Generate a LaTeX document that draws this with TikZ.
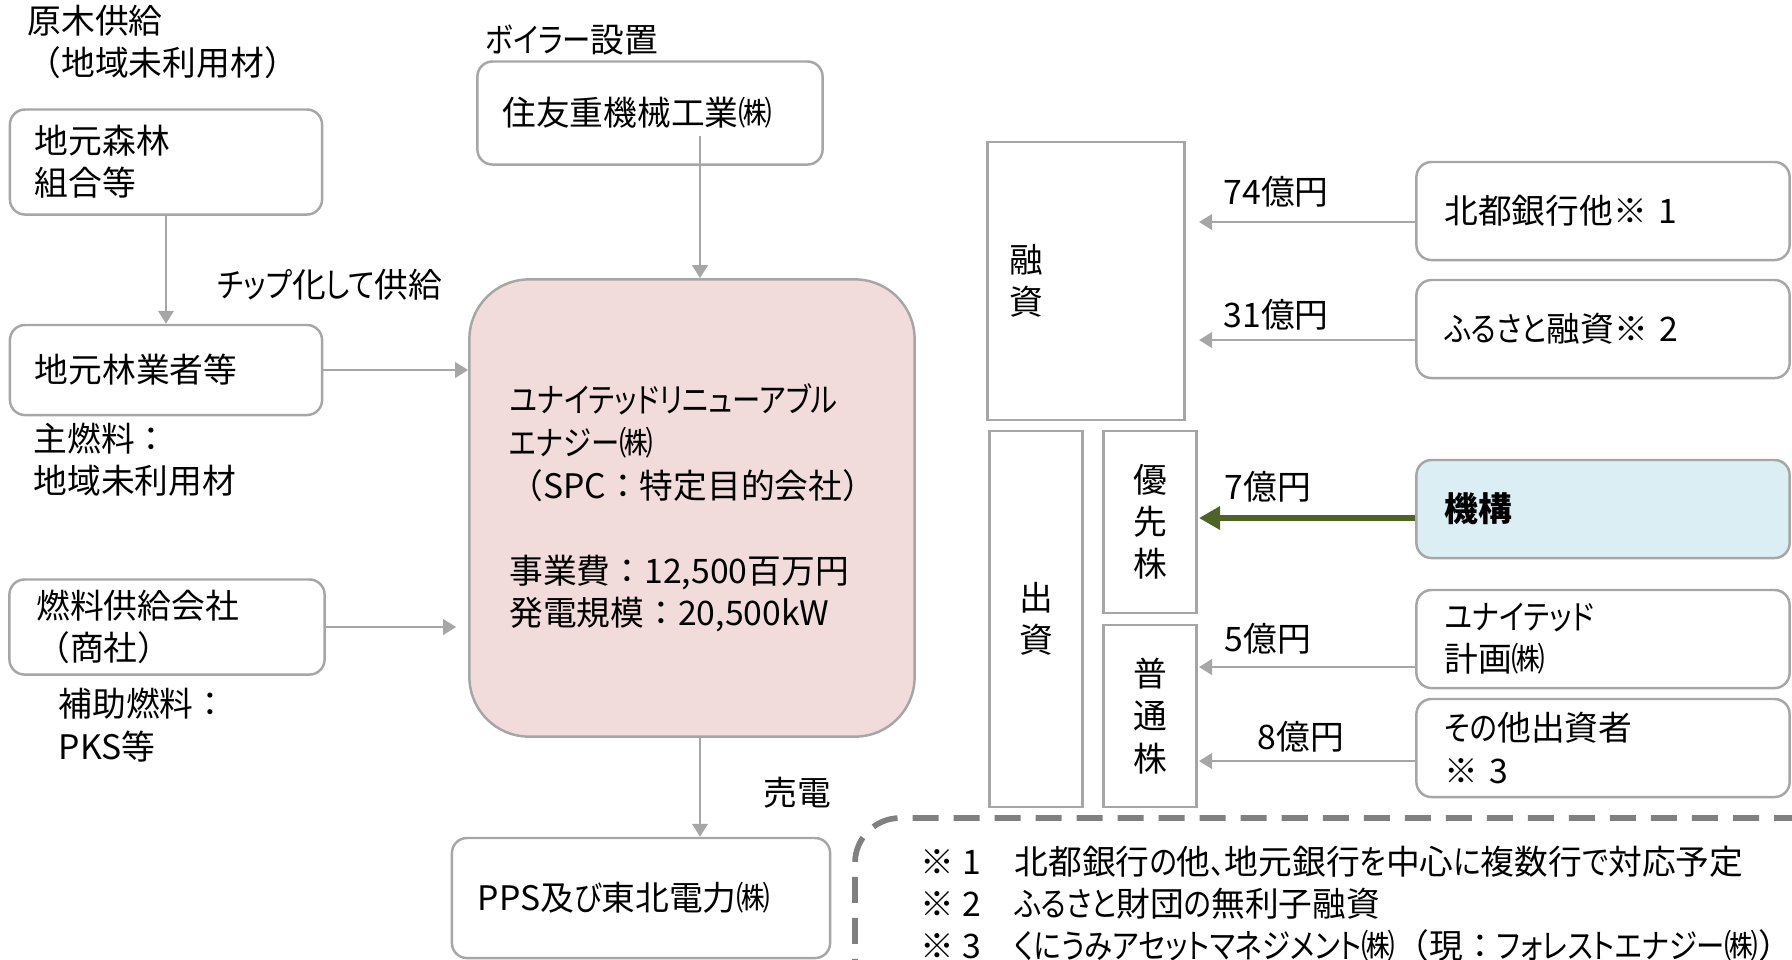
\documentclass[tikz,border=0pt]{standalone}
\usepackage{fontspec}
\setmainfont{Noto Sans CJK JP}
\newfontfamily\knfont{Noto Sans CJK JP}[RawFeature=+palt, FakeStretch=0.84]
\newcommand{\kn}[1]{{\knfont #1}}
\usetikzlibrary{arrows.meta, calc, positioning}

\definecolor{linegray}{HTML}{A6A6A6}
\definecolor{dashgray}{HTML}{808080}
\definecolor{spcpink}{HTML}{F2DCDB}
\definecolor{kikoublue}{HTML}{DBEEF4}
\definecolor{kikougreen}{HTML}{4F6228}

\begin{document}
\begin{tikzpicture}[
            x=0.01cm,
            y=-0.01cm,
            >={Triangle[length=3.7pt,width=4.4pt]},
            font=\fontsize{9.6pt}{12pt}\selectfont,
            party/.style={draw=linegray, line width=0.7pt, rounded corners=4.3pt,
                inner sep=0pt, align=left},
            column/.style={draw=linegray, line width=0.7pt, inner sep=0pt,
                minimum width=0.93cm, align=center},
            flow/.style={->, draw=linegray, line width=0.7pt},
            plain/.style={inner sep=0pt, anchor=west, align=left}
        ]

            % --- Canvas ---
            \useasboundingbox (0,0) rectangle (1792,959);
            \clip (0,0) rectangle (1792,959);

            % --- Definitions ---
            \coordinate (axis) at (700,0);
            \coordinate (tipx) at (1199,0);

            % --- 1. Fuel side ---
            \node[plain] (genboku) at (27,42) {原木供給\\（地域未利用材）};
            \node[party, minimum width=3.12cm, minimum height=1.05cm, text width=2.62cm]
                (forest) at (166,162) {地元森林\\組合等};
            \node[plain] (chip) at (217,285) {\kn{チップ}化\kn{して}供給};
            \node[party, minimum width=3.12cm, minimum height=0.9cm, text width=2.62cm]
                (ringyo) at (166,370) {地元林業者等};
            \node[plain] (shunen) at (33,460) {主燃料：\\地域未利用材};
            \node[party, minimum width=3.15cm, minimum height=0.95cm, text width=2.61cm]
                (shosha) at (167,627) {燃料供給会社\\（商社）};
            \node[plain] (hojo) at (58,725) {補助燃料：\\PKS等};

            % --- 2. SPC and boiler ---
            \node[plain] (boilerlbl) at (485,40) {\kn{ボイラー}設置};
            \node[party, minimum width=3.45cm, minimum height=1.03cm, text width=2.95cm]
                (sumitomo) at (650,113) {住友重機械工業㈱};
            \node[party, fill=spcpink, rounded corners=17pt, minimum width=4.45cm,
                minimum height=4.57cm, text width=3.65cm, font=\fontsize{9.6pt}{12.1pt}\selectfont]
                (spc) at (692,508)
                {\kn{ユナイテッドリニューアブル}\\\kn{エナジー}㈱\\（SPC：特定目的会社）\\[12.1pt]
                 事業費：12,500百万円\\発電規模：20,500kW};
            \node[plain] (baiden) at (763,793) {売電};
            \node[party, minimum width=3.78cm, minimum height=1.2cm, text width=3.26cm]
                (pps) at (641,898) {PPS及\kn{び}東北電力㈱};

            \draw[flow] (forest) -- (ringyo);
            \draw[flow] (ringyo.east) -- (ringyo.east -| spc.west);
            \draw[flow, shorten >=0.12cm] (shosha.east) -- (shosha.east -| spc.west);
            \draw[flow] ([yshift=0.3cm]sumitomo.south -| axis) -- (spc.north -| axis);
            \draw[flow] (spc.south -| axis) -- (pps.north -| axis);

            % --- 3. Finance columns ---
            \node[column, minimum width=1.97cm, minimum height=2.78cm, text width=1.53cm,
                align=left] (yushi) at (1086,281) {融\\資};
            \node[column, minimum height=3.76cm] (shusshi) at (1036,619) {出\\資};
            \node[column, minimum height=1.82cm] (yusen) at (1150,522) {優\\先\\株};
            \node[column, minimum height=1.82cm] (futsu) at (1150,716) {普\\通\\株};

            % --- 4. Lenders and investors ---
            \node[party, minimum width=3.73cm, minimum height=0.98cm, text width=3.17cm]
                (hokuto) at (1603,211) {北都銀行他※ 1};
            \node[party, minimum width=3.73cm, minimum height=0.98cm, text width=3.17cm]
                (furusato) at (1603,329) {\kn{ふるさと}融資※ 2};
            \node[party, fill=kikoublue, minimum width=3.73cm, minimum height=0.98cm,
                text width=3.17cm] (kikou) at (1603,509) {\textbf{機構}};
            \node[party, minimum width=3.73cm, minimum height=0.98cm, text width=3.17cm]
                (united) at (1603,639) {\kn{ユナイテッド}\\計画㈱};
            \node[party, minimum width=3.73cm, minimum height=0.98cm, text width=3.17cm]
                (sonota) at (1603,748) {\kn{その}他出資者\\※ 3};

            \draw[flow] ([yshift=-0.11cm]hokuto.west) -- ([yshift=-0.11cm]hokuto.west -| tipx);
            \draw[flow] ([yshift=-0.11cm]furusato.west) -- ([yshift=-0.11cm]furusato.west -| tipx);
            \draw[->, draw=kikougreen, line width=1.5pt, >={Triangle[length=6pt,width=6.4pt]}]
                ([yshift=-0.09cm]kikou.west) -- ([yshift=-0.09cm]kikou.west -| tipx);
            \draw[flow] ([yshift=-0.28cm]united.west) -- ([yshift=-0.28cm]united.west -| tipx);
            \draw[flow] ([yshift=-0.13cm]sonota.west) -- ([yshift=-0.13cm]sonota.west -| tipx);

            \node[plain] (amt74) at (1223,192) {74億円};
            \node[plain] (amt31) at (1223,315) {31億円};
            \node[plain] (amt7) at (1224,487) {7億円};
            \node[plain] (amt5) at (1224,639) {5億円};
            \node[plain] (amt8) at (1257,737) {8億円};

            % --- 5. Notes ---
            \draw[dashgray, line width=1.6pt, dash pattern=on 0.26cm off 0.15cm,
                rounded corners=0.45cm] (1800,818) -- (855,818) -- (855,990);
            \node[plain] (notes) at (920,904)
                {※ 1　北都銀行\kn{の}他\kn{、}地元銀行\kn{を}中心\kn{に}複数行\kn{で}対応予定\\
                 ※ 2　\kn{ふるさと}財団\kn{の}無利子融資\\
                 ※ 3　\kn{くにうみアセットマネジメント}㈱（現：\kn{フォレストエナジー}㈱）};

        \end{tikzpicture}
\end{document}
